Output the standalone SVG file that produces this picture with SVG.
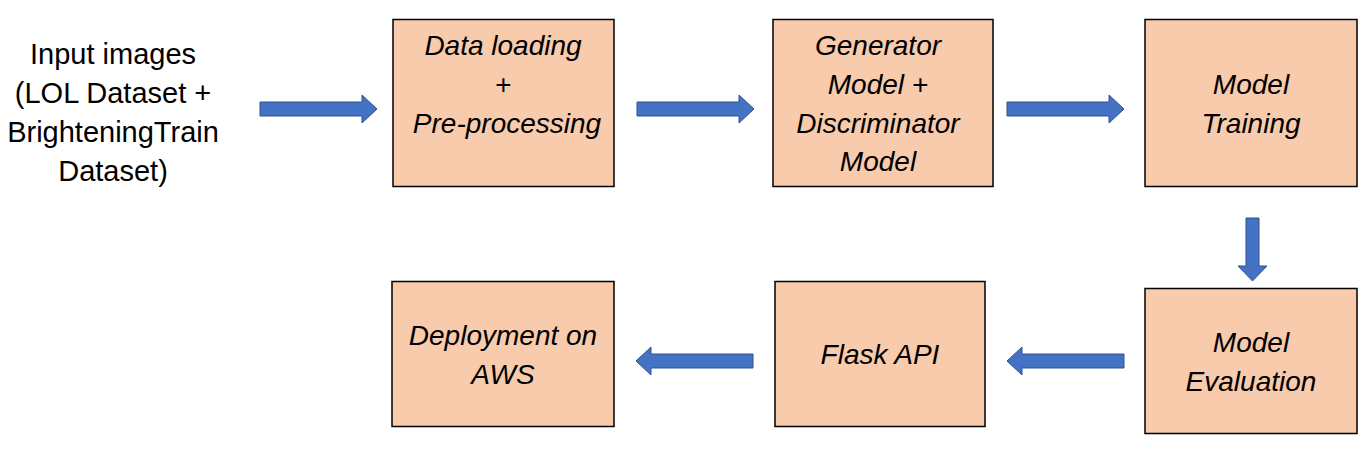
<svg xmlns="http://www.w3.org/2000/svg" width="1368" height="449" viewBox="0 0 1368 449">
<style>
.box{fill:#F8CBAD;stroke:#000;stroke-width:1.5}
.arr{fill:#4472C4;stroke:#2F528F;stroke-width:1}
.t{font-family:"Liberation Sans",Arial,sans-serif;font-size:28px;font-style:italic;fill:#000;text-anchor:middle}
.in{font-family:"Liberation Sans",Arial,sans-serif;font-size:29px;fill:#000;text-anchor:middle}
</style>
<rect width="1368" height="449" fill="#fff"/>
<g id="input">
<text class="in" x="113" y="64">Input images</text>
<text class="in" x="113" y="103">(LOL Dataset +</text>
<text class="in" x="113" y="142">BrighteningTrain</text>
<text class="in" x="113" y="181">Dataset)</text>
</g>
<g id="n-data">
<rect class="box" x="393" y="19.5" width="221" height="167"/>
<text class="t" x="503" y="55">Data loading</text>
<text class="t" x="503" y="94">+</text>
<text class="t" x="507" y="133">Pre-processing</text>
</g>
<g id="n-gen">
<rect class="box" x="773" y="19.5" width="220" height="167"/>
<text class="t" x="878" y="55">Generator</text>
<text class="t" x="878" y="94">Model +</text>
<text class="t" x="878" y="133">Discriminator</text>
<text class="t" x="878" y="171">Model</text>
</g>
<g id="n-train">
<rect class="box" x="1145" y="19.5" width="212" height="167"/>
<text class="t" x="1251" y="94">Model</text>
<text class="t" x="1251" y="133">Training</text>
</g>
<g id="n-eval">
<rect class="box" x="1145" y="288.5" width="212" height="145"/>
<text class="t" x="1251" y="352">Model</text>
<text class="t" x="1251" y="391">Evaluation</text>
</g>
<g id="n-flask">
<rect class="box" x="775" y="281.5" width="210" height="145"/>
<text class="t" x="880" y="364">Flask API</text>
</g>
<g id="n-aws">
<rect class="box" x="392" y="281.5" width="222" height="145"/>
<text class="t" x="503" y="345">Deployment on</text>
<text class="t" x="503" y="384">AWS</text>
</g>
<g id="connectors">
<path class="arr" d="M260,102 H362 V95 L377,109 L362,123 V116 H260 Z"/>
<path class="arr" d="M637,102 H739 V95 L754,109 L739,123 V116 H637 Z"/>
<path class="arr" d="M1007,102 H1109 V95 L1124,109 L1109,123 V116 H1007 Z"/>
<path class="arr" d="M1246,218 V266 H1238 L1252.5,281 L1267,266 H1259 V218 Z"/>
<path class="arr" d="M1124,354 H1022 V347 L1007,361 L1022,375 V368 H1124 Z"/>
<path class="arr" d="M753,354 H651 V347 L636,361 L651,375 V368 H753 Z"/>
</g>
</svg>
